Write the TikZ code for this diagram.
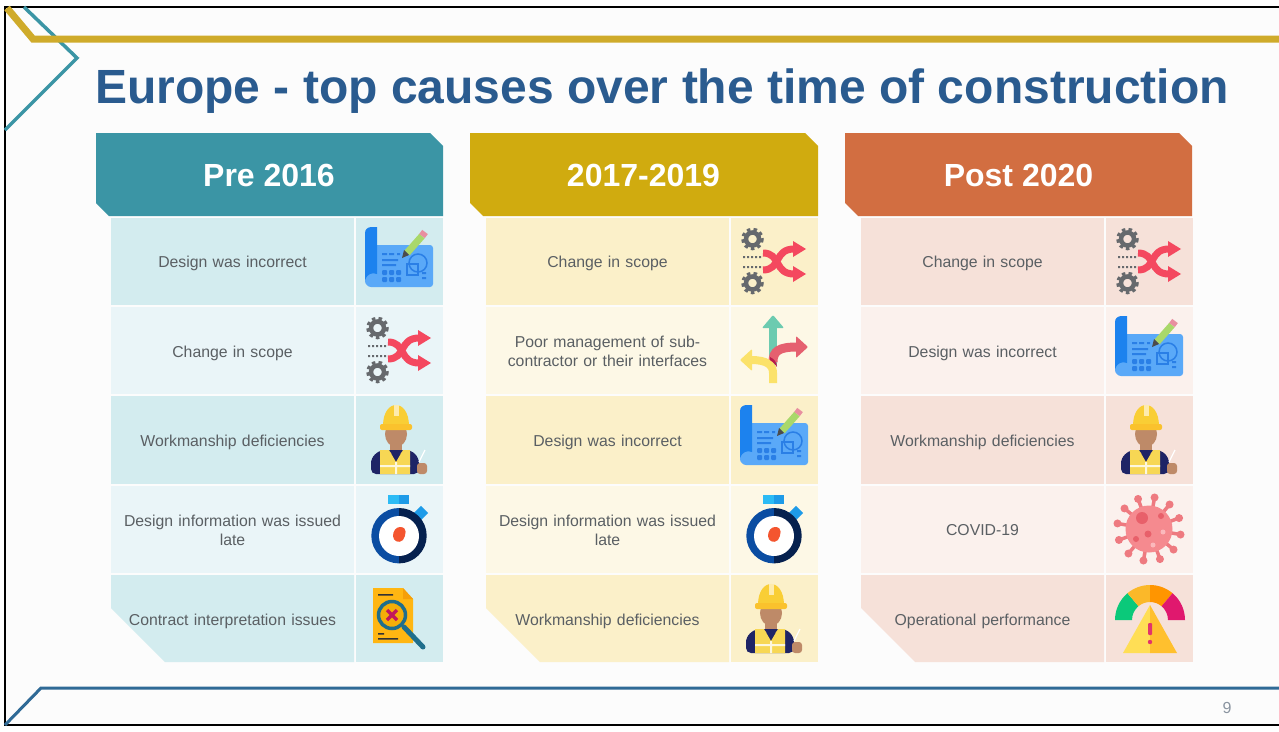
\documentclass[tikz,border=0pt]{standalone}
\usepackage{fontspec}
\setmainfont{Liberation Sans}
\definecolor{tealhead}{HTML}{3B95A5}
\definecolor{tealrowa}{HTML}{D3ECEF}
\definecolor{tealrowb}{HTML}{EAF5F8}
\definecolor{goldhead}{HTML}{D0AB0F}
\definecolor{goldrowa}{HTML}{FBF0C9}
\definecolor{goldrowb}{HTML}{FDF8E6}
\definecolor{orghead}{HTML}{D26E41}
\definecolor{orgrowa}{HTML}{F6E1D9}
\definecolor{orgrowb}{HTML}{FBF1ED}
\definecolor{titleblue}{HTML}{2A5B8F}
\definecolor{celltext}{HTML}{5A5F63}
\definecolor{goldline}{HTML}{CFAB2B}
\definecolor{blueline}{HTML}{2F6A96}
\definecolor{pagenum}{HTML}{8A94A0}
\definecolor{planlight}{HTML}{5AA9F8}
\definecolor{plandark}{HTML}{1C82EE}
\definecolor{planmark}{HTML}{2A7FE6}
\definecolor{pencil}{HTML}{A9D86A}
\definecolor{pencilend}{HTML}{E88FA0}
\definecolor{gearcol}{HTML}{66696D}
\definecolor{shufflered}{HTML}{F4485F}
\definecolor{hatyellow}{HTML}{F9CE35}
\definecolor{skin}{HTML}{BE8A68}
\definecolor{navy}{HTML}{1E2466}
\definecolor{vest}{HTML}{F7D754}
\definecolor{timercyan}{HTML}{2CBBF5}
\definecolor{timersky}{HTML}{1E9BE8}
\definecolor{timerblue}{HTML}{0B4DA2}
\definecolor{timernavy}{HTML}{06214F}
\definecolor{timerred}{HTML}{F4552F}
\definecolor{paper}{HTML}{FFB612}
\definecolor{paperfold}{HTML}{F59F0A}
\definecolor{lensring}{HTML}{1F6E8C}
\definecolor{lensgold}{HTML}{F4AE08}
\definecolor{lensmark}{HTML}{C2185B}
\definecolor{roadgreen}{HTML}{6CCBB0}
\definecolor{roadred}{HTML}{E5606F}
\definecolor{roadyellow}{HTML}{FBE26A}
\definecolor{roadmix}{HTML}{B81C4C}
\definecolor{virusbody}{HTML}{F58A8F}
\definecolor{virusspike}{HTML}{EE7A80}
\definecolor{virusspot}{HTML}{E8606A}
\definecolor{viruspale}{HTML}{FBB9BC}
\definecolor{gaugegreen}{HTML}{0BC97A}
\definecolor{gaugeamber}{HTML}{FBB829}
\definecolor{gaugeorange}{HTML}{FF9500}
\definecolor{gaugepink}{HTML}{E0186E}
\definecolor{signleft}{HTML}{FFDE55}
\definecolor{signright}{HTML}{FFC02E}
\definecolor{signmark}{HTML}{E2336B}
\tikzset{
	plan/.pic={
		\fill[planlight, rounded corners=3] (12,27) -- (77,27) -- (77,69) -- (18,69) .. controls (12,69) and (9,66) .. (9,60) -- cycle;
		\fill[plandark] (9,15) .. controls (9,11) and (12,9) .. (16,9) -- (21,9) -- (21,56) .. controls (16,54) and (11,56) .. (9,62) -- cycle;
		\fill[planmark] (26,35) rectangle (31,37) (33,35) rectangle (38,37) (41,35) rectangle (44,37);
		\fill[planmark] (26,41) rectangle (42,43) (26,46) rectangle (40,48);
		\foreach \gx in {26,33,40} \foreach \gy in {52,59} \fill[planmark, rounded corners=1] (\gx,\gy) rectangle +(5,5);
		\draw[planmark, line width=1.5] (51,46) rectangle (62,57);
		\draw[planmark, line width=1.5] (62,45) circle (9);
		\fill[planmark] (66,54) rectangle (70,56) (66,59) rectangle (70,61);
		\draw[line width=7, color=pencil] (51,35) -- (66,18);
		\draw[line width=7, color=pencilend] (66,18) -- (69,14);
		\fill[black!70] (46,40) -- (48,32) -- (53,37) -- cycle;
	},
	shuffle/.pic={
		\foreach \gy in {21,65} {
			\draw[gearcol, line width=3, dash pattern=on 3.5 off 3.2] (21.5,\gy) circle (9.8);
			\draw[gearcol, line width=4.5] (21.5,\gy) circle (6.5);
		}
		\fill[gearcol] (12,38) rectangle (14,40) (16,38) rectangle (18,40) (20,38) rectangle (22,40) (24,38) rectangle (26,40) (28,38) rectangle (30,40);
		\fill[gearcol] (12,48) rectangle (14,50) (16,48) rectangle (18,50) (20,48) rectangle (22,50) (24,48) rectangle (26,50) (28,48) rectangle (30,50);
		\draw[shufflered, line width=7] (32,35) .. controls (50,35) and (43,56) .. (63,56);
		\draw[shufflered, line width=7] (32,52) .. controls (50,52) and (43,31) .. (63,31);
		\fill[shufflered] (62,48) -- (75,56) -- (62,64) -- cycle;
		\fill[shufflered] (62,23) -- (75,31) -- (62,39) -- cycle;
	},
	worker/.pic={
		\fill[navy, rounded corners=5] (15,78) -- (15,62) -- (24,54) -- (55,54) -- (63,62) -- (63,78) -- cycle;
		\fill[skin] (34,44) rectangle (46,58);
		\fill[skin] (40,38) ellipse (11 and 13);
		\fill[navy] (33,54) -- (47,54) -- (40,64) -- cycle;
		\fill[vest] (24,78) -- (24,54) -- (33,54) -- (40,66) -- (47,54) -- (54,54) -- (54,78) -- cycle;
		\fill[white!80!vest] (24,69) rectangle (54,71) (39,66) rectangle (41,78);
		\fill[hatyellow] (27,30) .. controls (27,2) and (53,2) .. (53,30) -- cycle;
		\fill[hatyellow!85!orange, rounded corners=2] (24,28) rectangle (56,34);
		\fill[white!60!hatyellow] (38,9) rectangle (43,20);
		\fill[skin, rounded corners=3] (61,67) rectangle (71,78);
		\draw[white, line width=1.2] (63,66) -- (69,54);
	},
	timer/.pic={
		\fill[timercyan] (32,9) rectangle (43,18);
		\fill[timersky] (43,9) rectangle (53,18);
		\fill[timersky, rotate around={45:(65,27)}] (60,22) rectangle (70,32);
		\fill[timerblue] (43,22) arc (-90:-270:27.7) -- cycle;
		\fill[timernavy] (43,22) arc (-90:90:27.7) -- cycle;
		\fill[white] (43,50) circle (20);
		\fill[timerred] (44,41) .. controls (52,41) and (50,49) .. (47,54) .. controls (43,58) and (37,55) .. (37,50) .. controls (37,45) and (40,41) .. (44,41) -- cycle;
	},
	contract/.pic={
		\fill[paper] (17,13) -- (47,13) -- (57,24) -- (57,68) -- (17,68) -- cycle;
		\fill[paperfold] (47,13) -- (47,24) -- (57,24) -- cycle;
		\fill[black!80] (22,19) rectangle (37,20.5) (22,58) rectangle (28,59.5) (22,63) rectangle (42,64.5);
		\draw[lensring, line width=5, line cap=round] (48,52) -- (67,72);
		\fill[lensgold] (36,40) circle (13);
		\draw[lensring, line width=3.5] (36,40) circle (13.5);
		\draw[lensmark, line width=3.5] (31,35) -- (41,45) (31,45) -- (41,35);
	},
	crossroad/.pic={
		\draw[roadgreen, line width=8] (42,58) -- (42,20);
		\fill[roadgreen, rounded corners=1] (42,8) -- (53,21) -- (31,21) -- cycle;
		\draw[roadred, line width=9] (42,55) .. controls (42,44) and (48,40) .. (66,40);
		\fill[roadred, rounded corners=1] (77,40) -- (65,29) -- (65,51) -- cycle;
		\draw[roadyellow, line width=8] (42,76) -- (42,66) .. controls (42,58) and (36,53) .. (20,53);
		\fill[roadyellow, rounded corners=1] (9,53) -- (21,42) -- (21,64) -- cycle;
		\fill[roadmix] (39,50) .. controls (43,52) and (46,55) .. (46,60) .. controls (43,56) and (41,54) .. (39,53) -- cycle;
	},
	virus/.pic={
		\foreach \va in {10,40,...,340} {
			\draw[virusspike, line width=3.5] (43,43) -- ++(\va:31);
			\fill[virusspike] (43,43) ++(\va:32) circle (4);
		}
		\fill[virusbody] (43,43) circle (23.5);
		\fill[virusspot] (36,32) circle (6) (42,48) circle (3.5) (55,30) circle (3) (30,53) circle (3);
		\fill[viruspale] (47,59) circle (2.5) (57,46) circle (2.5);
	},
	gauge/.pic={
		\fill[gaugegreen] (9,45) arc (-180:-130:35) -- ++(50:17) arc (-130:-180:18) -- cycle;
		\fill[gaugeamber] (44,10) arc (-90:-130:35) -- ++(50:17) arc (-130:-90:18) -- cycle;
		\fill[gaugeorange] (44,10) arc (-90:-50:35) -- ++(130:17) arc (-50:-90:18) -- cycle;
		\fill[gaugepink] (79,45) arc (0:-50:35) -- ++(130:17) arc (-50:0:18) -- cycle;
		\fill[signleft] (44,30) -- (44,78) -- (17,78) -- cycle;
		\fill[signright] (44,30) -- (44,78) -- (71,78) -- cycle;
		\fill[signmark, rounded corners=1] (42,48) rectangle (46,60);
		\fill[signmark] (44,67) circle (2.2);
	}
}
\begin{document}
\begin{tikzpicture}[x=1pt, y=-1pt,
	head/.style={font=\bfseries\fontsize{32}{36}\selectfont, text=white},
	cell/.style={font=\fontsize{15.8}{19}\selectfont, text=celltext, align=center, inner sep=0, text width=233}]
	\useasboundingbox (0,0) rectangle (1279,731);
	\fill[white] (0,0) rectangle (1279,731);
	\fill[black!1] (5,7) rectangle (1279,725);
	
	% frame and corner lines
	\draw[black, line width=2] (1279,7) -- (5,7) -- (5,725) -- (1279,725);
	\draw[tealhead, line width=3.5] (24,7) -- (77,58) -- (5,130);
	\draw[goldline, line width=7] (7,8) -- (33,39) -- (1279,39);
	\draw[blueline, line width=3] (5,725) -- (41,688) -- (1279,688);
	
	\node[font=\bfseries\fontsize{48}{56}\selectfont, text=titleblue, anchor=west, inner sep=0] (title) at (95,91) {Europe - top causes over the time of construction};
	\node[text=pagenum, font=\fontsize{16}{18}\selectfont, inner sep=0] (pagenum) at (1227,708) {9};
	
	% Pre 2016
	\fill[tealhead] (96,133) -- (430,133) -- (443,146) -- (443,216) -- (109,216) -- (96,203) -- cycle;
	\node[head] (headpre) at (269,175) {Pre 2016};
	\fill[tealrowa] (111,218) rectangle (354,305);
	\fill[tealrowa] (356,218) rectangle (443,305);
	\fill[tealrowb] (111,307) rectangle (354,394);
	\fill[tealrowb] (356,307) rectangle (443,394);
	\fill[tealrowa] (111,396) rectangle (354,484);
	\fill[tealrowa] (356,396) rectangle (443,484);
	\fill[tealrowb] (111,486) rectangle (354,573);
	\fill[tealrowb] (356,486) rectangle (443,573);
	\fill[tealrowa] (111,575) -- (354,575) -- (354,662) -- (165,662) -- (111,608) -- cycle;
	\fill[tealrowa] (356,575) rectangle (443,662);
	\node[cell] (prea) at (232.5,263.5) {Design was incorrect};
	\node[cell] (preb) at (232.5,353) {Change in scope};
	\node[cell] (prec) at (232.5,442) {Workmanship deficiencies};
	\node[cell] (pred) at (232.5,530.5) {Design information was issued\\late};
	\node[cell] (pree) at (232.5,621.5) {Contract interpretation issues};
	\pic at (356,218) {plan};
	\pic at (356,307) {shuffle};
	\pic at (356,396) {worker};
	\pic at (356,486) {timer};
	\pic at (356,575) {contract};
	
	% 2017-2019
	\fill[goldhead] (470,133) -- (805,133) -- (818,146) -- (818,216) -- (483,216) -- (470,203) -- cycle;
	\node[head] (headmid) at (643.5,175) {2017-2019};
	\fill[goldrowa] (486,218) rectangle (729,305);
	\fill[goldrowa] (731,218) rectangle (818,305);
	\fill[goldrowb] (486,307) rectangle (729,394);
	\fill[goldrowb] (731,307) rectangle (818,394);
	\fill[goldrowa] (486,396) rectangle (729,484);
	\fill[goldrowa] (731,396) rectangle (818,484);
	\fill[goldrowb] (486,486) rectangle (729,573);
	\fill[goldrowb] (731,486) rectangle (818,573);
	\fill[goldrowa] (486,575) -- (729,575) -- (729,662) -- (540,662) -- (486,608) -- cycle;
	\fill[goldrowa] (731,575) rectangle (818,662);
	\node[cell] (mida) at (607.5,263.5) {Change in scope};
	\node[cell] (midb) at (607.5,351) {Poor management of sub-\\contractor or their interfaces};
	\node[cell] (midc) at (607.5,442) {Design was incorrect};
	\node[cell] (midd) at (607.5,530.5) {Design information was issued\\late};
	\node[cell] (mide) at (607.5,621.5) {Workmanship deficiencies};
	\pic at (731,218) {shuffle};
	\pic at (731,307) {crossroad};
	\pic at (731,396) {plan};
	\pic at (731,486) {timer};
	\pic at (731,575) {worker};
	
	% Post 2020
	\fill[orghead] (845,133) -- (1179,133) -- (1192,146) -- (1192,216) -- (858,216) -- (845,203) -- cycle;
	\node[head] (headpost) at (1018.5,175) {Post 2020};
	\fill[orgrowa] (861,218) rectangle (1104,305);
	\fill[orgrowa] (1106,218) rectangle (1193,305);
	\fill[orgrowb] (861,307) rectangle (1104,394);
	\fill[orgrowb] (1106,307) rectangle (1193,394);
	\fill[orgrowa] (861,396) rectangle (1104,484);
	\fill[orgrowa] (1106,396) rectangle (1193,484);
	\fill[orgrowb] (861,486) rectangle (1104,573);
	\fill[orgrowb] (1106,486) rectangle (1193,573);
	\fill[orgrowa] (861,575) -- (1104,575) -- (1104,662) -- (915,662) -- (861,608) -- cycle;
	\fill[orgrowa] (1106,575) rectangle (1193,662);
	\node[cell] (posta) at (982.5,263.5) {Change in scope};
	\node[cell] (postb) at (982.5,353) {Design was incorrect};
	\node[cell] (postc) at (982.5,442) {Workmanship deficiencies};
	\node[cell] (postd) at (982.5,530.5) {COVID-19};
	\node[cell] (poste) at (982.5,621.5) {Operational performance};
	\pic at (1106,218) {shuffle};
	\pic at (1106,307) {plan};
	\pic at (1106,396) {worker};
	\pic at (1106,486) {virus};
	\pic at (1106,575) {gauge};
	
\end{tikzpicture}
\end{document}
